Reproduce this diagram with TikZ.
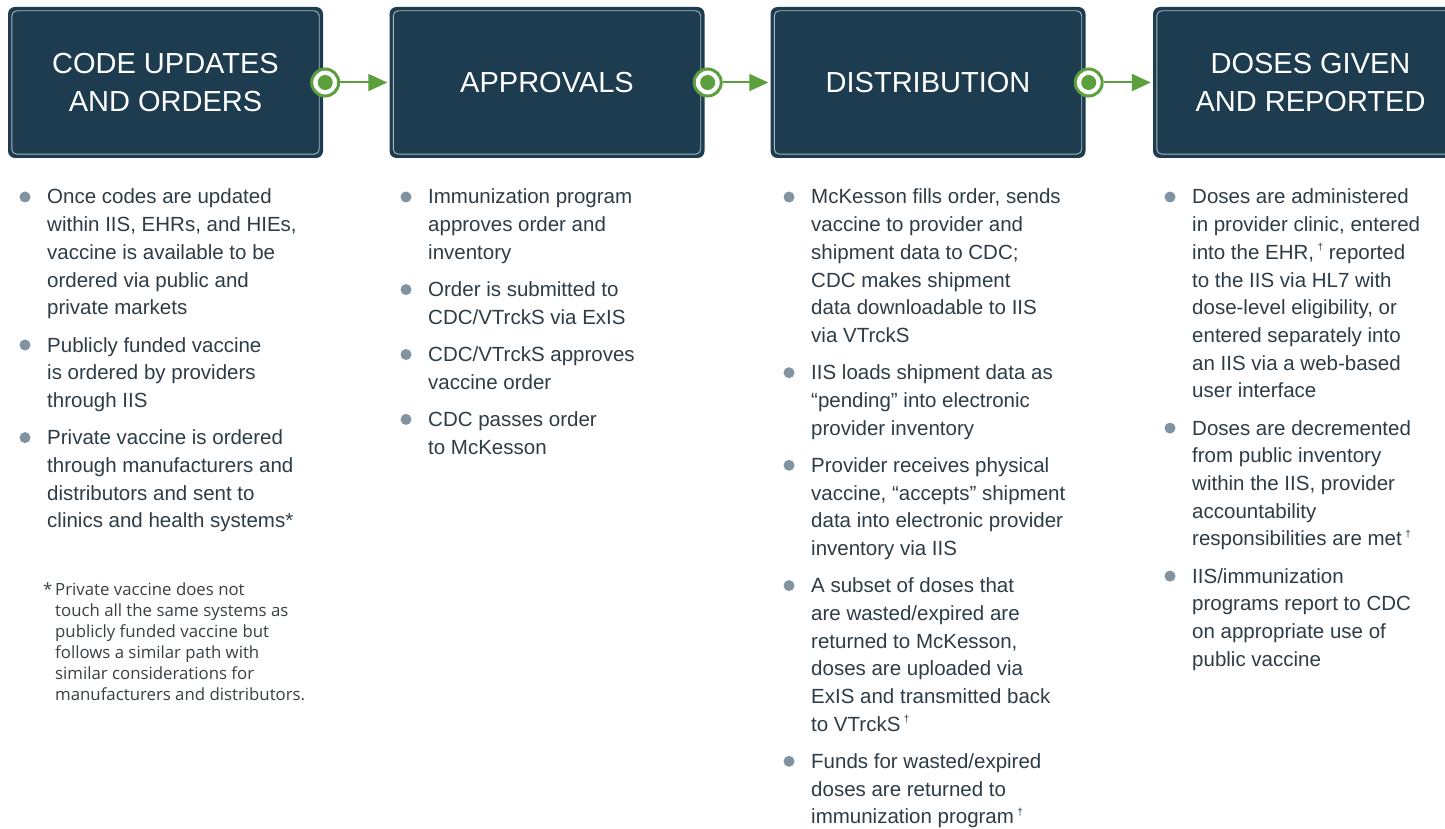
\documentclass[tikz,border=0pt]{standalone}
\usepackage{fontspec}
\setmainfont{Liberation Sans}
\newfontfamily\fnfont{Open Sans}
\usetikzlibrary{arrows.meta}
\definecolor{navy}{HTML}{1E3C50}
\definecolor{flowgreen}{HTML}{5C9F3D}
\definecolor{dotgray}{HTML}{8193A0}
\definecolor{txtcol}{HTML}{2E3C47}
\definecolor{fncol}{HTML}{3A3F44}
\definecolor{innerline}{HTML}{A8B6C0}
\newcommand{\dg}{\,\raisebox{0.42em}{\fontsize{10}{10}\selectfont †}}
\newcommand{\toplines}[1]{\begin{tabular}[t]{@{}l@{}}#1\end{tabular}}
\newcommand{\bul}[4]{%
  \node[btxt] (#1) at (#2,#3) {\toplines{#4}};
  \node[bdot] (#1d) at (#2-22,#3-7) {};
}
\begin{document}
\begin{tikzpicture}[x=1pt,y=-1pt,
  hdr/.style={fill=navy, rounded corners=7pt, minimum width=315pt, minimum height=151pt,
    inner sep=0pt, text=white, align=center, font=\fontsize{29}{37.5}\selectfont},
  innerbox/.style={draw=innerline, line width=0.9pt, rounded corners=5pt},
  ring/.style={circle, draw=flowgreen, line width=3pt, fill=white, minimum size=27pt, inner sep=0pt,
    path picture={\fill[flowgreen] (path picture bounding box.center) circle (7.5pt);}},
  conn/.style={draw=flowgreen, line width=2pt, -{Triangle[length=19pt,width=17pt]}, shorten >=2pt},
  btxt/.style={anchor=base west, inner sep=0pt, text=txtcol,
    font=\fontsize{20.5}{27.7}\selectfont},
  bdot/.style={circle, fill=dotgray, minimum size=11pt, inner sep=0pt},
  fnote/.style={anchor=base west, inner sep=0pt, text=fncol,
    font=\fnfont\fontsize{16.8}{21}\selectfont}
]
\useasboundingbox (0,0) rectangle (1445,829);
\fill[white] (0,0) rectangle (1445,829);

% header boxes
\node[hdr] (h1) at (165.5,82.5) {CODE UPDATES\\AND ORDERS};
\node[hdr] (h2) at (547,82.5) {APPROVALS};
\node[hdr] (h3) at (928,82.5) {DISTRIBUTION};
\node[hdr] (h4) at (1310.5,82.5) {DOSES GIVEN\\AND REPORTED};
\foreach \h in {h1,h2,h3,h4}{
  \draw[innerbox] ([xshift=4pt,yshift=-4pt]\h.north west) rectangle ([xshift=-4pt,yshift=4pt]\h.south east);
}

% connectors
\node[ring] (r1) at ([xshift=2pt]h1.east) {};
\node[ring] (r2) at ([xshift=3pt]h2.east) {};
\node[ring] (r3) at ([xshift=3pt]h3.east) {};
\draw[conn] (r1) -- (h2.west);
\draw[conn] (r2) -- (h3.west);
\draw[conn] (r3) -- (h4.west);

% column 1
\bul{a1}{47}{204}{Once codes are updated\\within IIS, EHRs, and HIEs,\\vaccine is available to be\\ordered via public and\\private markets}
\bul{a2}{47}{352}{Publicly funded vaccine\\is ordered by providers\\through IIS}
\bul{a3}{47}{444.6}{Private vaccine is ordered\\through manufacturers and\\distributors and sent to\\clinics and health systems*}
\node[fnote] (fn) at (55,595) {\toplines{\llap{*\,}Private vaccine does not\\touch all the same systems as\\publicly funded vaccine but\\follows a similar path with\\similar considerations for\\manufacturers and distributors.}};

% column 2
\bul{b1}{428}{204}{Immunization program\\approves order and\\inventory}
\bul{b2}{428}{296.6}{Order is submitted to\\CDC/VTrckS via ExIS}
\bul{b3}{428}{361.5}{CDC/VTrckS approves\\vaccine order}
\bul{b4}{428}{426.4}{CDC passes order\\to McKesson}

% column 3
\bul{c1}{811}{204}{McKesson fills order, sends\\vaccine to provider and\\shipment data to CDC;\\CDC makes shipment\\data downloadable to IIS\\via VTrckS}
\bul{c2}{811}{379.7}{IIS loads shipment data as\\“pending” into electronic\\provider inventory}
\bul{c3}{811}{472.3}{Provider receives physical\\vaccine, “accepts” shipment\\data into electronic provider\\inventory via IIS}
\bul{c4}{811}{592.6}{A subset of doses that\\are wasted/expired are\\returned to McKesson,\\doses are uploaded via\\ExIS and transmitted back\\to VTrckS\dg}
\bul{c5}{811}{768.3}{Funds for wasted/expired\\doses are returned to\\immunization program\dg}

% column 4
\bul{d1}{1192}{204}{Doses are administered\\in provider clinic, entered\\into the EHR,\dg{} reported\\to the IIS via HL7 with\\dose-level eligibility, or\\entered separately into\\an IIS via a web-based\\user interface}
\bul{d2}{1192}{435.1}{Doses are decremented\\from public inventory\\within the IIS, provider\\accountability\\responsibilities are met\dg}
\bul{d3}{1192}{583.1}{IIS/immunization\\programs report to CDC\\on appropriate use of\\public vaccine}
\end{tikzpicture}
\end{document}
